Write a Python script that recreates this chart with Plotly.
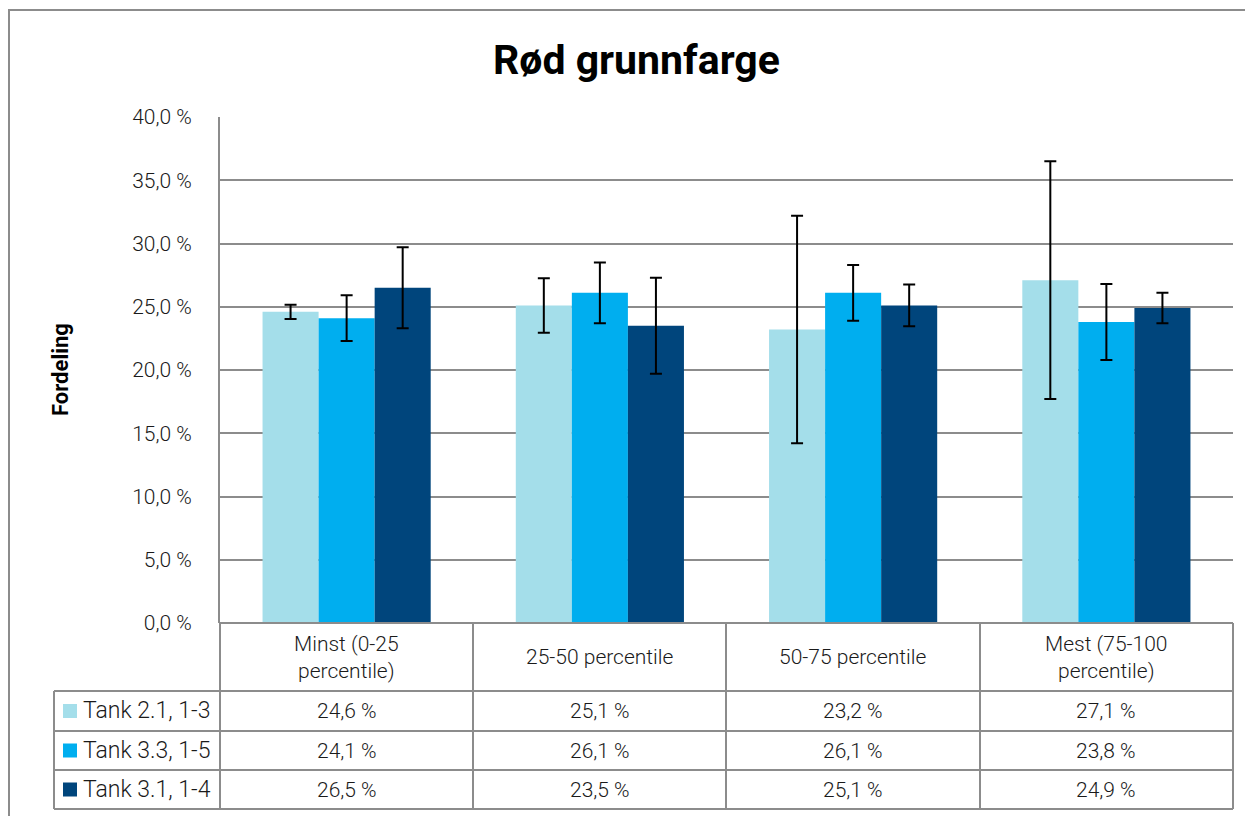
import plotly.graph_objects as go

# ---------------- data ----------------
categories = ["Minst (0-25<br>percentile)", "25-50 percentile", "50-75 percentile", "Mest (75-100<br>percentile)"]
series_names = ["Tank 2.1, 1-3", "Tank 3.3, 1-5", "Tank 3.1, 1-4"]
tank21 = [24.6, 25.1, 23.2, 27.1]
tank33 = [24.1, 26.1, 26.1, 23.8]
tank31 = [26.5, 23.5, 25.1, 24.9]
err21 = [0.56, 2.15, 9.0, 9.4]
err33 = [1.8, 2.4, 2.2, 3.0]
err31 = [3.2, 3.8, 1.65, 1.2]
tick_vals = [0, 5, 10, 15, 20, 25, 30, 35, 40]
tick_text = ["0,0 %", "5,0 %", "10,0 %", "15,0 %", "20,0 %", "25,0 %", "30,0 %", "35,0 %", "40,0 %"]

colors = ["#A4DEEA", "#00AEEF", "#00457C"]
values = [tank21, tank33, tank31]
errors = [err21, err33, err31]

OFF = 8  # page body margin
W, H = 1253 - OFF, 816 - OFF
L, R, T, B = 220, 1233, 117, 623
FONT = "Roboto, Lato, sans-serif"
GRID = "#8C8C8C"


def px(x):
    return (x - L) / (R - L)


def py(y):
    return (B - y) / (B - T)


fig = go.Figure()
for name, vals, errs, col in zip(series_names, values, errors, colors):
    fig.add_trace(go.Bar(
        x=categories, y=vals, name=name,
        marker=dict(color=col, line=dict(width=0)),
        error_y=dict(type="data", array=errs, visible=True, color="black", thickness=2, width=6),
        showlegend=False,
    ))

shapes = []
shapes.append(dict(type="rect", xref="paper", yref="paper", x0=px(9), x1=px(1251), y0=py(10), y1=py(840),
                   line=dict(color="#8C8C8C", width=2), fillcolor="rgba(0,0,0,0)", layer="below"))
row_y = [623, 691, 731, 770, 809]
col_x = [220, 473, 726, 980, 1233]
shapes.append(dict(type="line", xref="paper", yref="paper", x0=px(220), x1=px(1233), y0=py(623), y1=py(623),
                   line=dict(color=GRID, width=2)))
for yy in row_y[1:]:
    shapes.append(dict(type="line", xref="paper", yref="paper", x0=px(54), x1=px(1233), y0=py(yy), y1=py(yy),
                       line=dict(color=GRID, width=2)))
for xx in col_x:
    shapes.append(dict(type="line", xref="paper", yref="paper", x0=px(xx), x1=px(xx), y0=py(623), y1=py(809),
                       line=dict(color=GRID, width=2)))
shapes.append(dict(type="line", xref="paper", yref="paper", x0=px(54), x1=px(54), y0=py(691), y1=py(809),
                   line=dict(color=GRID, width=2)))

annotations = []
TXT = dict(family=FONT, size=21, color="#1a1a1a", weight=300)
for c in categories:
    annotations.append(dict(x=c, xref="x", y=py(657), yref="paper", text=c, showarrow=False,
                            font=TXT, xanchor="center", yanchor="middle"))
for i, (name, vals, col) in enumerate(zip(series_names, values, colors)):
    yc = (row_y[i + 1] + row_y[i + 2]) / 2
    shapes.append(dict(type="rect", xref="paper", yref="paper", x0=px(63), x1=px(77), y0=py(yc - 7), y1=py(yc + 7),
                       line=dict(width=0), fillcolor=col))
    annotations.append(dict(x=px(81), xref="paper", y=py(yc), yref="paper", text=name, showarrow=False,
                            font=dict(family=FONT, size=23, color="#1a1a1a", weight=300),
                            xanchor="left", yanchor="middle"))
    for c, v in zip(categories, vals):
        annotations.append(dict(x=c, xref="x", y=py(yc), yref="paper",
                                text=f"{v:.1f} %".replace(".", ","), showarrow=False,
                                font=TXT, xanchor="center", yanchor="middle"))
annotations.append(dict(x=px(60), xref="paper", y=py(370), yref="paper", text="<b>Fordeling</b>", textangle=-90,
                        showarrow=False, font=dict(family=FONT, size=22, color="black"),
                        xanchor="center", yanchor="middle"))
annotations.append(dict(x=px(636), xref="paper", y=py(60), yref="paper", text="<b>Rød grunnfarge</b>",
                        showarrow=False, font=dict(family=FONT, size=41, color="black"),
                        xanchor="center", yanchor="middle"))

fig.update_layout(
    width=W, height=H,
    margin=dict(l=L - OFF, r=W - (R - OFF), t=T - OFF, b=H - (B - OFF), pad=0),
    paper_bgcolor="white", plot_bgcolor="white",
    barmode="group", bargap=0.336, bargroupgap=0,
    shapes=shapes, annotations=annotations,
    font=dict(family=FONT, color="#1a1a1a"),
)
fig.update_xaxes(showticklabels=False, showgrid=False, zeroline=False, showline=False, ticks="")
fig.update_yaxes(range=[0, 40], tickvals=tick_vals, ticktext=tick_text, showgrid=True, gridcolor=GRID, gridwidth=2,
                 showline=True, linecolor=GRID, linewidth=2, zeroline=False, ticks="",
                 ticklabelstandoff=22, tickfont=dict(family=FONT, size=21, color="#1a1a1a", weight=300))

fig.write_html("out.html")
